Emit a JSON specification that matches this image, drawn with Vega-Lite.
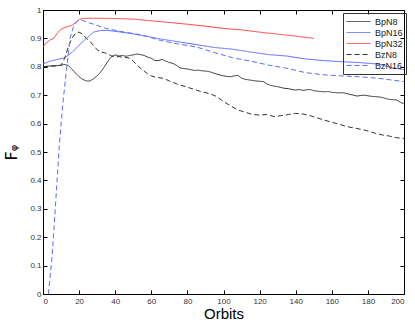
{
  "$schema": "https://vega.github.io/schema/vega-lite/v6.json",
  "width": 361,
  "height": 284,
  "autosize": {"type": "none"},
  "padding": {"left": 43, "top": 10, "right": 11, "bottom": 30},
  "background": "white",
  "config": {
    "view": {"stroke": null},
    "font": "Liberation Sans",
    "axis": {"grid": false, "domainColor": "#000", "tickColor": "#000", "labelColor": "#333", "labelFontSize": 8, "labelFont": "Liberation Sans", "titleFont": "Liberation Sans", "titleFontWeight": "normal", "titleColor": "#000"},
    "legend": {"title": null, "orient": "none", "legendX": 300, "legendY": 3, "strokeColor": "#333", "padding": 3, "symbolType": "M-1,0L3.8,0", "symbolSize": 100, "symbolStrokeWidth": 1, "labelFontSize": 9, "labelColor": "#222", "labelOffset": 18, "rowPadding": 0}
  },
  "datasets": {
    "d": [
      {"s":"BpN8","x":0,"y":0.800},{"s":"BpN8","x":2,"y":0.802},{"s":"BpN8","x":4,"y":0.803},{"s":"BpN8","x":6,"y":0.804},{"s":"BpN8","x":8,"y":0.804},{"s":"BpN8","x":10,"y":0.806},{"s":"BpN8","x":12,"y":0.808},{"s":"BpN8","x":14,"y":0.805},{"s":"BpN8","x":16,"y":0.792},{"s":"BpN8","x":18,"y":0.778},{"s":"BpN8","x":20,"y":0.765},{"s":"BpN8","x":22,"y":0.756},{"s":"BpN8","x":24,"y":0.750},{"s":"BpN8","x":26,"y":0.750},{"s":"BpN8","x":28,"y":0.758},{"s":"BpN8","x":30,"y":0.768},{"s":"BpN8","x":32,"y":0.782},{"s":"BpN8","x":34,"y":0.800},{"s":"BpN8","x":36,"y":0.820},{"s":"BpN8","x":38,"y":0.836},{"s":"BpN8","x":40,"y":0.842},{"s":"BpN8","x":42,"y":0.838},{"s":"BpN8","x":44,"y":0.840},{"s":"BpN8","x":46,"y":0.837},{"s":"BpN8","x":48,"y":0.840},{"s":"BpN8","x":50,"y":0.842},{"s":"BpN8","x":52,"y":0.845},{"s":"BpN8","x":54,"y":0.843},{"s":"BpN8","x":56,"y":0.840},{"s":"BpN8","x":58,"y":0.834},{"s":"BpN8","x":60,"y":0.830},{"s":"BpN8","x":62,"y":0.822},{"s":"BpN8","x":64,"y":0.822},{"s":"BpN8","x":66,"y":0.826},{"s":"BpN8","x":68,"y":0.820},{"s":"BpN8","x":70,"y":0.815},{"s":"BpN8","x":72,"y":0.812},{"s":"BpN8","x":74,"y":0.805},{"s":"BpN8","x":76,"y":0.796},{"s":"BpN8","x":78,"y":0.794},{"s":"BpN8","x":80,"y":0.792},{"s":"BpN8","x":82,"y":0.790},{"s":"BpN8","x":84,"y":0.787},{"s":"BpN8","x":86,"y":0.788},{"s":"BpN8","x":88,"y":0.786},{"s":"BpN8","x":90,"y":0.785},{"s":"BpN8","x":92,"y":0.783},{"s":"BpN8","x":94,"y":0.779},{"s":"BpN8","x":96,"y":0.775},{"s":"BpN8","x":98,"y":0.771},{"s":"BpN8","x":100,"y":0.768},{"s":"BpN8","x":102,"y":0.766},{"s":"BpN8","x":104,"y":0.765},{"s":"BpN8","x":106,"y":0.768},{"s":"BpN8","x":108,"y":0.770},{"s":"BpN8","x":110,"y":0.760},{"s":"BpN8","x":112,"y":0.756},{"s":"BpN8","x":114,"y":0.754},{"s":"BpN8","x":116,"y":0.752},{"s":"BpN8","x":118,"y":0.750},{"s":"BpN8","x":120,"y":0.749},{"s":"BpN8","x":122,"y":0.748},{"s":"BpN8","x":124,"y":0.740},{"s":"BpN8","x":126,"y":0.735},{"s":"BpN8","x":128,"y":0.732},{"s":"BpN8","x":130,"y":0.730},{"s":"BpN8","x":132,"y":0.727},{"s":"BpN8","x":134,"y":0.724},{"s":"BpN8","x":136,"y":0.723},{"s":"BpN8","x":138,"y":0.720},{"s":"BpN8","x":140,"y":0.718},{"s":"BpN8","x":142,"y":0.720},{"s":"BpN8","x":144,"y":0.717},{"s":"BpN8","x":146,"y":0.719},{"s":"BpN8","x":148,"y":0.720},{"s":"BpN8","x":150,"y":0.716},{"s":"BpN8","x":152,"y":0.714},{"s":"BpN8","x":154,"y":0.713},{"s":"BpN8","x":156,"y":0.712},{"s":"BpN8","x":158,"y":0.713},{"s":"BpN8","x":160,"y":0.710},{"s":"BpN8","x":162,"y":0.709},{"s":"BpN8","x":164,"y":0.708},{"s":"BpN8","x":166,"y":0.709},{"s":"BpN8","x":168,"y":0.706},{"s":"BpN8","x":170,"y":0.703},{"s":"BpN8","x":172,"y":0.700},{"s":"BpN8","x":174,"y":0.697},{"s":"BpN8","x":176,"y":0.699},{"s":"BpN8","x":178,"y":0.700},{"s":"BpN8","x":180,"y":0.698},{"s":"BpN8","x":182,"y":0.696},{"s":"BpN8","x":184,"y":0.695},{"s":"BpN8","x":186,"y":0.694},{"s":"BpN8","x":188,"y":0.692},{"s":"BpN8","x":190,"y":0.688},{"s":"BpN8","x":192,"y":0.685},{"s":"BpN8","x":194,"y":0.684},{"s":"BpN8","x":196,"y":0.683},{"s":"BpN8","x":198,"y":0.675},{"s":"BpN8","x":200,"y":0.670},

      {"s":"BpN16","x":0,"y":0.810},{"s":"BpN16","x":4,"y":0.820},{"s":"BpN16","x":8,"y":0.826},{"s":"BpN16","x":12,"y":0.832},{"s":"BpN16","x":16,"y":0.850},{"s":"BpN16","x":20,"y":0.876},{"s":"BpN16","x":24,"y":0.900},{"s":"BpN16","x":28,"y":0.922},{"s":"BpN16","x":32,"y":0.928},{"s":"BpN16","x":36,"y":0.928},{"s":"BpN16","x":40,"y":0.925},{"s":"BpN16","x":48,"y":0.918},{"s":"BpN16","x":55,"y":0.910},{"s":"BpN16","x":65,"y":0.898},{"s":"BpN16","x":75,"y":0.888},{"s":"BpN16","x":85,"y":0.878},{"s":"BpN16","x":95,"y":0.868},{"s":"BpN16","x":105,"y":0.862},{"s":"BpN16","x":115,"y":0.852},{"s":"BpN16","x":125,"y":0.843},{"s":"BpN16","x":135,"y":0.838},{"s":"BpN16","x":145,"y":0.828},{"s":"BpN16","x":155,"y":0.822},{"s":"BpN16","x":165,"y":0.818},{"s":"BpN16","x":175,"y":0.815},{"s":"BpN16","x":185,"y":0.810},{"s":"BpN16","x":195,"y":0.795},{"s":"BpN16","x":200,"y":0.790},

      {"s":"BpN32","x":0,"y":0.870},{"s":"BpN32","x":2,"y":0.885},{"s":"BpN32","x":4,"y":0.895},{"s":"BpN32","x":6,"y":0.900},{"s":"BpN32","x":8,"y":0.920},{"s":"BpN32","x":10,"y":0.932},{"s":"BpN32","x":12,"y":0.938},{"s":"BpN32","x":14,"y":0.942},{"s":"BpN32","x":16,"y":0.946},{"s":"BpN32","x":18,"y":0.955},{"s":"BpN32","x":20,"y":0.966},{"s":"BpN32","x":22,"y":0.970},{"s":"BpN32","x":25,"y":0.971},{"s":"BpN32","x":30,"y":0.971},{"s":"BpN32","x":40,"y":0.970},{"s":"BpN32","x":50,"y":0.968},{"s":"BpN32","x":60,"y":0.962},{"s":"BpN32","x":70,"y":0.956},{"s":"BpN32","x":80,"y":0.950},{"s":"BpN32","x":90,"y":0.943},{"s":"BpN32","x":100,"y":0.935},{"s":"BpN32","x":110,"y":0.930},{"s":"BpN32","x":120,"y":0.922},{"s":"BpN32","x":130,"y":0.915},{"s":"BpN32","x":140,"y":0.908},{"s":"BpN32","x":150,"y":0.900},

      {"s":"BzN8","x":0,"y":0.800},{"s":"BzN8","x":4,"y":0.802},{"s":"BzN8","x":8,"y":0.803},{"s":"BzN8","x":10,"y":0.805},{"s":"BzN8","x":12,"y":0.830},{"s":"BzN8","x":14,"y":0.870},{"s":"BzN8","x":16,"y":0.900},{"s":"BzN8","x":18,"y":0.918},{"s":"BzN8","x":20,"y":0.922},{"s":"BzN8","x":22,"y":0.915},{"s":"BzN8","x":24,"y":0.900},{"s":"BzN8","x":26,"y":0.890},{"s":"BzN8","x":28,"y":0.875},{"s":"BzN8","x":30,"y":0.860},{"s":"BzN8","x":32,"y":0.852},{"s":"BzN8","x":34,"y":0.850},{"s":"BzN8","x":36,"y":0.845},{"s":"BzN8","x":38,"y":0.838},{"s":"BzN8","x":40,"y":0.835},{"s":"BzN8","x":42,"y":0.836},{"s":"BzN8","x":44,"y":0.834},{"s":"BzN8","x":46,"y":0.833},{"s":"BzN8","x":48,"y":0.830},{"s":"BzN8","x":50,"y":0.820},{"s":"BzN8","x":52,"y":0.806},{"s":"BzN8","x":54,"y":0.795},{"s":"BzN8","x":56,"y":0.785},{"s":"BzN8","x":58,"y":0.775},{"s":"BzN8","x":60,"y":0.768},{"s":"BzN8","x":62,"y":0.764},{"s":"BzN8","x":64,"y":0.762},{"s":"BzN8","x":66,"y":0.760},{"s":"BzN8","x":68,"y":0.756},{"s":"BzN8","x":70,"y":0.750},{"s":"BzN8","x":72,"y":0.745},{"s":"BzN8","x":74,"y":0.740},{"s":"BzN8","x":76,"y":0.736},{"s":"BzN8","x":80,"y":0.728},{"s":"BzN8","x":84,"y":0.720},{"s":"BzN8","x":88,"y":0.712},{"s":"BzN8","x":92,"y":0.706},{"s":"BzN8","x":96,"y":0.696},{"s":"BzN8","x":100,"y":0.678},{"s":"BzN8","x":104,"y":0.662},{"s":"BzN8","x":108,"y":0.648},{"s":"BzN8","x":112,"y":0.640},{"s":"BzN8","x":116,"y":0.632},{"s":"BzN8","x":120,"y":0.630},{"s":"BzN8","x":124,"y":0.632},{"s":"BzN8","x":128,"y":0.625},{"s":"BzN8","x":132,"y":0.628},{"s":"BzN8","x":136,"y":0.632},{"s":"BzN8","x":140,"y":0.636},{"s":"BzN8","x":144,"y":0.634},{"s":"BzN8","x":148,"y":0.628},{"s":"BzN8","x":152,"y":0.620},{"s":"BzN8","x":156,"y":0.612},{"s":"BzN8","x":160,"y":0.605},{"s":"BzN8","x":164,"y":0.598},{"s":"BzN8","x":168,"y":0.590},{"s":"BzN8","x":172,"y":0.585},{"s":"BzN8","x":176,"y":0.580},{"s":"BzN8","x":180,"y":0.574},{"s":"BzN8","x":184,"y":0.566},{"s":"BzN8","x":188,"y":0.560},{"s":"BzN8","x":192,"y":0.556},{"s":"BzN8","x":196,"y":0.550},{"s":"BzN8","x":200,"y":0.548},

      {"s":"BzN16","x":3,"y":0.0},{"s":"BzN16","x":5,"y":0.13},{"s":"BzN16","x":7,"y":0.32},{"s":"BzN16","x":9,"y":0.52},{"s":"BzN16","x":11,"y":0.67},{"s":"BzN16","x":13,"y":0.79},{"s":"BzN16","x":15,"y":0.90},{"s":"BzN16","x":17,"y":0.945},{"s":"BzN16","x":19,"y":0.962},{"s":"BzN16","x":21,"y":0.965},{"s":"BzN16","x":24,"y":0.958},{"s":"BzN16","x":28,"y":0.950},{"s":"BzN16","x":35,"y":0.935},{"s":"BzN16","x":45,"y":0.922},{"s":"BzN16","x":55,"y":0.912},{"s":"BzN16","x":65,"y":0.893},{"s":"BzN16","x":75,"y":0.880},{"s":"BzN16","x":85,"y":0.870},{"s":"BzN16","x":95,"y":0.850},{"s":"BzN16","x":105,"y":0.832},{"s":"BzN16","x":115,"y":0.820},{"s":"BzN16","x":125,"y":0.806},{"s":"BzN16","x":135,"y":0.795},{"s":"BzN16","x":145,"y":0.780},{"s":"BzN16","x":155,"y":0.772},{"s":"BzN16","x":165,"y":0.768},{"s":"BzN16","x":175,"y":0.765},{"s":"BzN16","x":185,"y":0.760},{"s":"BzN16","x":195,"y":0.752},{"s":"BzN16","x":200,"y":0.748}
    ]
  },
  "data": {"name": "d"},
  "layer": [
    {
      "mark": {"type": "line", "strokeWidth": 1, "clip": true},
      "encoding": {
        "x": {"field": "x", "type": "quantitative", "scale": {"domain": [0, 200], "nice": false},
          "axis": {"orient": "bottom", "values": [0,20,40,60,80,100,120,140,160,180,200], "tickSize": -4, "labelPadding": 7, "title": "Orbits", "titleFontSize": 15, "titlePadding": 1}},
        "y": {"field": "y", "type": "quantitative", "scale": {"domain": [0, 1], "nice": false},
          "axis": {"orient": "left", "values": [0,0.1,0.2,0.3,0.4,0.5,0.6,0.7,0.8,0.9,1], "format": "~g", "tickSize": -4, "labelPadding": 6, "title": "Fᵩ", "titleFont": "DejaVu Sans", "titleFontSize": 16, "titleAngle": -90, "titleX": -27, "titleY": 142, "titleAlign": "center", "titleBaseline": "alphabetic"}},
        "color": {"field": "s", "type": "nominal",
          "scale": {"domain": ["BpN8","BpN16","BpN32","BzN8","BzN16"], "range": ["#333333","#5a6bff","#ff3b3b","#333333","#5a6bff"]}},
        "strokeDash": {"field": "s", "type": "nominal",
          "scale": {"domain": ["BpN8","BpN16","BpN32","BzN8","BzN16"], "range": [[1,0],[1,0],[1,0],[5,3],[5,3]]}}
      }
    },
    {
      "mark": {"type": "line", "opacity": 0},
      "encoding": {
        "x": {"field": "x", "type": "quantitative", "axis": {"orient": "top", "values": [0,20,40,60,80,100,120,140,160,180,200], "tickSize": -4, "labels": false, "title": null}},
        "y": {"field": "y", "type": "quantitative", "axis": {"orient": "right", "values": [0,0.1,0.2,0.3,0.4,0.5,0.6,0.7,0.8,0.9,1], "tickSize": -4, "labels": false, "title": null}},
        "detail": {"field": "s", "type": "nominal"}
      }
    }
  ],
  "resolve": {"axis": {"x": "independent", "y": "independent"}}
}
